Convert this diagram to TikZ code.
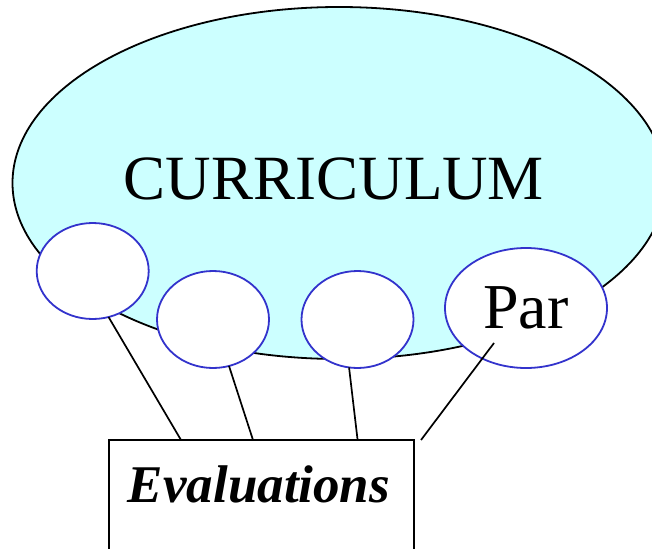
\documentclass[tikz,border=0pt]{standalone}
\usepackage{fontspec}
\setmainfont{Liberation Serif}
\usetikzlibrary{shapes.geometric}
\definecolor{curfill}{HTML}{CCFFFF}
\definecolor{circblue}{HTML}{3333CC}
\begin{document}
\begin{tikzpicture}[x=1pt,y=-1pt,
  bigell/.style={ellipse,draw=black,fill=curfill,line width=1.8pt,inner sep=0pt,outer sep=0pt},
  subell/.style={ellipse,draw=circblue,fill=white,line width=1.8pt,inner sep=0pt,outer sep=0pt},
  evbox/.style={rectangle,draw=black,fill=white,line width=1.7pt,inner sep=0pt,outer sep=0pt},
  conn/.style={draw=black,line width=1.7pt}]
\useasboundingbox (0,0) rectangle (652,548);
\clip (0,0) rectangle (652,548);
\node[bigell,minimum width=653pt,minimum height=352pt] (cur) at (339,183) {};
\node[anchor=base,font=\fontsize{63}{70}\selectfont] (curtext) at (334,199) {CURRICULUM};
\node[evbox,minimum width=305pt,minimum height=140pt,anchor=north west] (ev) at (109,440) {};
\node[anchor=base,font=\fontsize{53}{60}\selectfont\bfseries\itshape] (evtext) at (259,502) {Evaluations};
\node[subell,minimum width=112pt,minimum height=96pt] (c1) at (92.7,271) {};
\node[subell,minimum width=112pt,minimum height=97pt] (c2) at (213,319.5) {};
\node[subell,minimum width=112pt,minimum height=97pt] (c3) at (357.5,319.5) {};
\node[subell,minimum width=162pt,minimum height=120pt,font=\fontsize{64}{70}\selectfont] (c4) at (526,308) {Par};
\coordinate (e1) at (181,440);
\coordinate (e2) at (253,440);
\coordinate (e3) at (357.6,440);
\coordinate (p4) at (494,343);
\coordinate (e4) at (421,440);
\draw[conn] (c1.-71) -- (e1);
\draw[conn] (c2.-71.4) -- (e2);
\draw[conn] (c3.-100.7) -- (e3);
\draw[conn] (p4) -- (e4);
\end{tikzpicture}
\end{document}
